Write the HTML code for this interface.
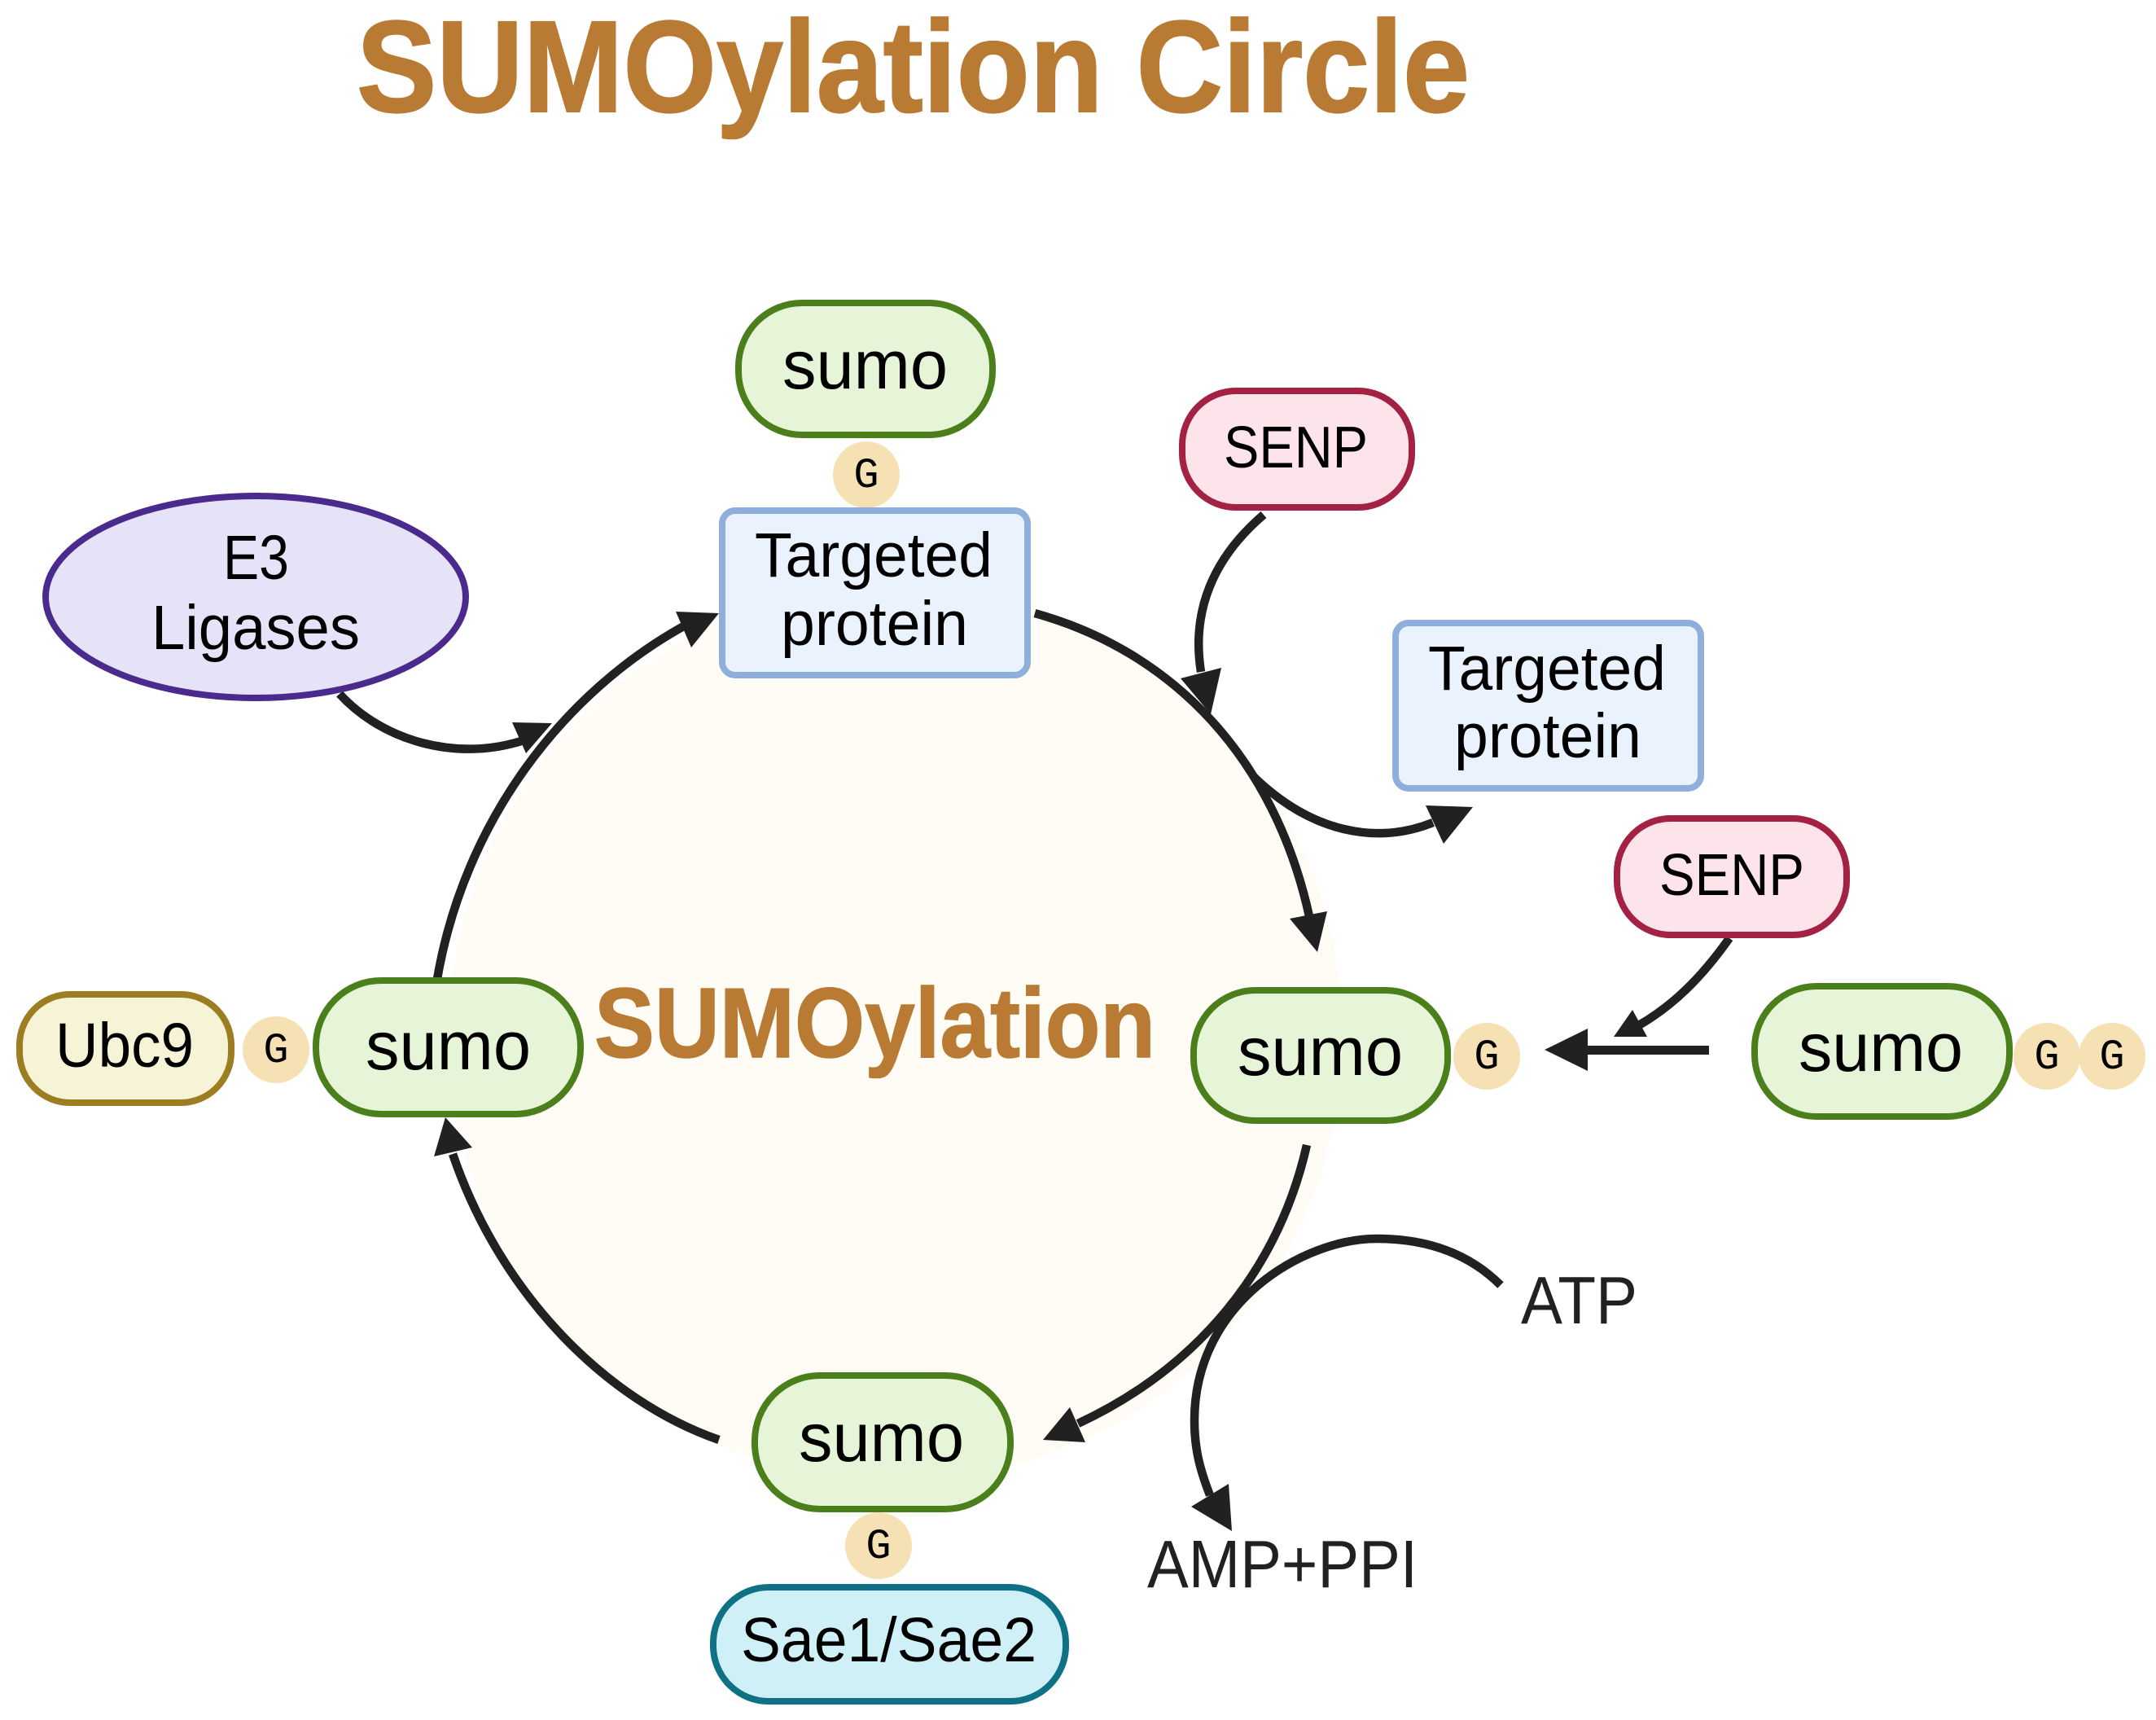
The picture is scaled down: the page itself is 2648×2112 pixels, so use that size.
<!DOCTYPE html>
<html><head><meta charset="utf-8"><style>html,body{margin:0;padding:0;background:#fff}svg{display:block}
text{font-family:"Liberation Sans",sans-serif;fill:#000}.a{fill:none;stroke:#212121;stroke-width:10.5}.h{fill:#212121;stroke:none}
.s{fill:#e6f4d7;stroke:#4a7f1b;stroke-width:8}.g{fill:#f6e1b4}.gt{font-family:"Liberation Mono",monospace;font-size:52px;text-anchor:middle}.n{font-size:77px}.m{font-size:84px}.e{font-size:72px}.l{fill:#212121;font-size:83px}.t{fill:#b97a33;stroke:#b97a33;font-weight:bold}</style></head><body>
<svg width="2648" height="2112" viewBox="0 0 2648 2112" xmlns="http://www.w3.org/2000/svg">
<rect width="2648" height="2112" fill="#fff"/>
<text class="t" x="438" y="137" font-size="160" stroke-width="2" textLength="1367" lengthAdjust="spacingAndGlyphs">SUMOylation Circle</text>
<circle cx="1100" cy="1270" r="549" fill="#fffcf5"/>
<text class="t" x="730" y="1298" font-size="122" stroke-width="1.5" textLength="689" lengthAdjust="spacingAndGlyphs">SUMOylation</text>

<path class="a" d="M1271 753C1440 800 1565 930 1608 1125"/>
<polygon class="h" points="1618,1169 1584,1128 1630,1119"/>
<path class="a" d="M1552 632C1490 685 1463 750 1475 825"/>
<polygon class="h" points="1487,877 1450,833 1500,820"/>
<path class="a" d="M1539 953C1610 1022 1690 1038 1760 1010"/>
<polygon class="h" points="1809,991 1751,989 1773,1036"/>
<path class="a" d="M1605 1406C1570 1560 1470 1680 1324 1748"/>
<polygon class="h" points="1281,1768 1314,1728 1333,1771"/>
<path class="a" d="M1843 1578C1800 1535 1745 1521 1691 1521C1600 1521 1467 1600 1467 1744C1467 1780 1474 1805 1486 1836"/>
<polygon class="h" points="1513,1880 1463,1850 1509,1822"/>
<path class="a" d="M883 1768C745 1720 615 1590 556 1417"/>
<polygon class="h" points="547,1372 533,1420 580,1409"/>
<path class="a" d="M537 1202C570 1010 690 850 845 766"/>
<polygon class="h" points="883,753 830,751 849,795"/>
<path class="a" d="M417 852C470 910 560 935 640 910"/>
<polygon class="h" points="678,888 629,887 646,925"/>
<path class="a" d="M2124 1152C2090 1200 2055 1235 2011 1260"/>
<polygon class="h" points="1982,1273 2005,1240 2023,1273"/>
<rect x="1950" y="1284" width="149" height="11" class="h"/>
<polygon class="h" points="1897,1289 1950,1263 1950,1315"/>

<rect class="s" x="907" y="372" width="312" height="162" rx="78"/>
<text class="m" x="961" y="477" textLength="203" lengthAdjust="spacingAndGlyphs">sumo</text>
<circle class="g" cx="1064" cy="583" r="41"/><text class="gt" x="1064" y="598">G</text>
<rect x="887" y="627" width="375" height="202" rx="16" fill="#eaf3fd" stroke="#8eaedb" stroke-width="8"/>
<text class="n" x="927" y="708" textLength="292" lengthAdjust="spacingAndGlyphs">Targeted</text>
<text class="n" x="959" y="792" textLength="230" lengthAdjust="spacingAndGlyphs">protein</text>

<rect x="1452" y="480" width="282" height="143" rx="66" fill="#fde4ea" stroke="#a32244" stroke-width="8"/>
<text class="e" x="1503" y="574" textLength="177" lengthAdjust="spacingAndGlyphs">SENP</text>

<ellipse cx="314" cy="733" rx="258" ry="124" fill="#e6e2f7" stroke="#4a2a8c" stroke-width="8"/>
<text class="n" x="274" y="711" textLength="81" lengthAdjust="spacingAndGlyphs">E3</text>
<text class="n" x="186" y="797" textLength="256" lengthAdjust="spacingAndGlyphs">Ligases</text>

<rect x="1714" y="765" width="375" height="203" rx="16" fill="#eaf3fd" stroke="#8eaedb" stroke-width="8"/>
<text class="n" x="1754" y="847" textLength="292" lengthAdjust="spacingAndGlyphs">Targeted</text>
<text class="n" x="1786" y="930" textLength="230" lengthAdjust="spacingAndGlyphs">protein</text>

<rect x="1986" y="1005" width="282" height="143" rx="66" fill="#fde4ea" stroke="#a32244" stroke-width="8"/>
<text class="e" x="2038" y="1099" textLength="178" lengthAdjust="spacingAndGlyphs">SENP</text>

<rect class="s" x="1466" y="1216" width="312" height="160" rx="76"/>
<text class="m" x="1520" y="1320" textLength="203" lengthAdjust="spacingAndGlyphs">sumo</text>
<circle class="g" cx="1826" cy="1297" r="41"/><text class="gt" x="1826" y="1312">G</text>

<rect class="s" x="2155" y="1211" width="313" height="160" rx="76"/>
<text class="m" x="2209" y="1315" textLength="202" lengthAdjust="spacingAndGlyphs">sumo</text>
<circle class="g" cx="2514" cy="1297" r="41"/><text class="gt" x="2514" y="1312">G</text>
<circle class="g" cx="2594" cy="1297" r="41"/><text class="gt" x="2594" y="1312">G</text>

<rect class="s" x="388" y="1204" width="325" height="164" rx="80"/>
<text class="m" x="449" y="1313" textLength="203" lengthAdjust="spacingAndGlyphs">sumo</text>
<circle class="g" cx="339" cy="1289" r="41"/><text class="gt" x="339" y="1304">G</text>
<rect x="24" y="1221" width="260" height="133" rx="62" fill="#f6f3d6" stroke="#9c7d22" stroke-width="8"/>
<text class="n" x="68" y="1310" textLength="170" lengthAdjust="spacingAndGlyphs">Ubc9</text>

<rect class="s" x="927" y="1689" width="314" height="164" rx="80"/>
<text class="m" x="981" y="1794" textLength="203" lengthAdjust="spacingAndGlyphs">sumo</text>
<circle class="g" cx="1079" cy="1898" r="41"/><text class="gt" x="1079" y="1913">G</text>
<rect x="876" y="1949" width="433" height="140" rx="68" fill="#cff0f7" stroke="#0f7186" stroke-width="8"/>
<text class="n" x="910" y="2040" textLength="363" lengthAdjust="spacingAndGlyphs">Sae1/Sae2</text>

<text class="l" x="1868" y="1625" textLength="143" lengthAdjust="spacingAndGlyphs">ATP</text>
<text class="l" x="1409" y="1949" textLength="332" lengthAdjust="spacingAndGlyphs">AMP+PPI</text>
</svg></body></html>
